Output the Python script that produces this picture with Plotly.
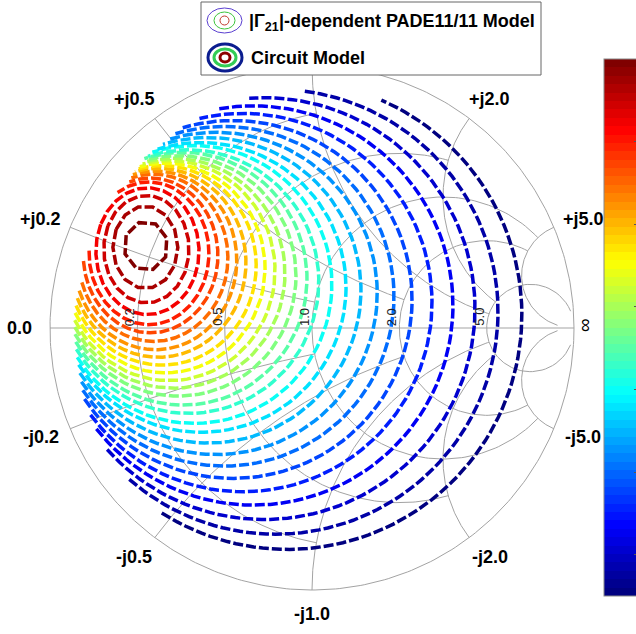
import numpy as np
import plotly.graph_objects as go

W, H = 636, 634
# Smith chart disc: centre and radius in page pixels
CX, CY, RP = 312.0, 328.0, 262.0

# Contour levels (innermost = highest), ellipse fits in the reflection-coefficient plane
LEVELS = [40.0, 39.5, 39.0, 38.5, 38.0, 37.5, 37.0, 36.5, 36.0, 35.5, 35.0, 34.5, 34.0,
          33.5, 33.0, 32.5, 32.0, 31.5, 31.0, 30.5, 30.0, 29.5, 29.0, 28.5, 28.0, 27.5, 27.0]
CENTER_RE = [-0.634, -0.636, -0.632, -0.628, -0.622, -0.616, -0.606, -0.597, -0.586, -0.572,
             -0.560, -0.545, -0.529, -0.511, -0.492, -0.472, -0.449, -0.423, -0.396, -0.366,
             -0.335, -0.301, -0.264, -0.224, -0.183, -0.139, -0.094]
CENTER_IM = [0.313, 0.308, 0.301, 0.293, 0.285, 0.277, 0.268, 0.258, 0.249, 0.239,
             0.229, 0.219, 0.209, 0.199, 0.188, 0.177, 0.166, 0.155, 0.144, 0.132,
             0.121, 0.109, 0.097, 0.086, 0.074, 0.062, 0.050]
RADIUS_RE = [0.084, 0.124, 0.163, 0.197, 0.229, 0.257, 0.285, 0.310, 0.334, 0.359,
             0.381, 0.404, 0.426, 0.450, 0.473, 0.498, 0.525, 0.553, 0.583, 0.615,
             0.648, 0.683, 0.722, 0.762, 0.805, 0.849, 0.895]
STRETCH_IM = [1.12, 1.27, 1.26, 1.23, 1.19, 1.15, 1.12, 1.10, 1.08, 1.06, 1.05, 1.04, 1.03,
              1.02, 1.02, 1.01, 1.01, 1.0, 1.0, 1.0, 1.0, 1.0, 1.0, 1.0, 1.0, 1.0, 1.0]
MEASURED_RADIUS = 0.91

# Smith chart grid: constant-resistance circles and constant-reactance arcs with their extents
R_VALUES = [0.2, 0.5, 1.0, 2.0, 5.0]
R_EXTENT = [1.0, 2.0, 5.0, 5.0, 30.0]
X_VALUES = [0.2, 0.5, 1.0, 2.0, 5.0]
X_EXTENT = [1.0, 2.0, 5.0, 5.0, 30.0]
R_LABELS = ["0.2", "0.5", "1.0", "2.0", "5.0"]
X_LABELS = ["+j0.2", "+j0.5", "+j2.0", "+j5.0", "-j0.2", "-j0.5", "-j1.0", "-j2.0", "-j5.0"]
X_LABEL_VALUES = [0.2, 0.5, 2.0, 5.0, -0.2, -0.5, -1.0, -2.0, -5.0]

GRID = "#a3a3a3"
FONT = "Liberation Sans, Arial, Helvetica, sans-serif"


def jet(t):
    r = np.clip(1.5 - abs(4 * t - 3), 0, 1)
    g = np.clip(1.5 - abs(4 * t - 2), 0, 1)
    b = np.clip(1.5 - abs(4 * t - 1), 0, 1)
    return "rgb(%d,%d,%d)" % (round(255 * r), round(255 * g), round(255 * b))


def gamma(z):
    return (z - 1) / (z + 1)


fig = go.Figure()

# outer circle and real axis
th = np.linspace(0, 2 * np.pi, 400)
fig.add_trace(go.Scatter(x=np.cos(th), y=np.sin(th), mode="lines",
                         line=dict(color=GRID, width=1), hoverinfo="skip", showlegend=False))
fig.add_trace(go.Scatter(x=[-1, 1], y=[0, 0], mode="lines",
                         line=dict(color=GRID, width=1), hoverinfo="skip", showlegend=False))

for r, xm in zip(R_VALUES, R_EXTENT):
    a = np.linspace(-np.arctan(xm), np.arctan(xm), 300)
    g = gamma(r + 1j * np.tan(a))
    fig.add_trace(go.Scatter(x=g.real, y=g.imag, mode="lines",
                             line=dict(color=GRID, width=1), hoverinfo="skip", showlegend=False))

for x, rm in zip(X_VALUES, X_EXTENT):
    a = np.linspace(0, np.arctan(rm), 300)
    for s in (1, -1):
        g = gamma(np.tan(a) + 1j * s * x)
        fig.add_trace(go.Scatter(x=g.real, y=g.imag, mode="lines",
                                 line=dict(color=GRID, width=1), hoverinfo="skip", showlegend=False))

# load-pull contours, clipped to the measured region; the tightest ones keep the
# coarse polygonal look of the sampled data grid
lmin, lmax = min(LEVELS), max(LEVELS)
for k, (lev, cre, cim, rad, st) in enumerate(zip(LEVELS, CENTER_RE, CENTER_IM, RADIUS_RE, STRETCH_IM)):
    nv = min(8 + 6 * k, 360)
    start = np.arctan2(cim, cre)
    t = start + np.linspace(0, 2 * np.pi, nv + 1)
    gx = cre + rad * np.cos(t)
    gy = cim + rad * st * np.sin(t)
    out = np.hypot(gx, gy) > MEASURED_RADIUS
    gx[out] = np.nan
    gy[out] = np.nan
    fig.add_trace(go.Scatter(x=gx, y=gy, mode="lines",
                             line=dict(color=jet((lev - lmin) / (lmax - lmin)), width=3.5,
                                       dash="10px,3px"),
                             hoverinfo="skip", showlegend=False))

# colour scale (64-step jet)
scale = []
for i in range(64):
    c = jet(i / 63)
    scale.append([i / 64, c])
    scale.append([(i + 1) / 64, c])
fig.add_trace(go.Scatter(
    x=CENTER_RE, y=CENTER_IM, mode="markers", hoverinfo="skip", showlegend=False,
    marker=dict(size=1, opacity=0, color=LEVELS, colorscale=scale, cmin=lmin, cmax=lmax,
                showscale=True,
                colorbar=dict(x=604 / W, xanchor="left", y=1 - 59 / H, yanchor="top",
                              lenmode="pixels", len=537, thickness=36, thicknessmode="pixels",
                              outlinecolor="#888888", outlinewidth=1,
                              ticks="inside", ticklen=6, tickcolor="#555555",
                              showticklabels=False, tickvals=[28, 30, 32, 34, 36, 38],
                              xpad=0, ypad=0))))

ann = []
# reactance labels around the rim
for lab, xv in zip(X_LABELS, X_LABEL_VALUES):
    g = gamma(1j * xv)
    ang = np.angle(g)
    px, py = 1.1 * np.cos(ang), 1.1 * np.sin(ang)
    xs = 0 if abs(np.cos(ang)) < 0.1 else 5 * np.sign(np.cos(ang))
    ann.append(dict(x=px, y=py, xref="x", yref="y", text=lab, showarrow=False,
                    xshift=xs, yshift=-2 if py > 0 else 2,
                    font=dict(family=FONT, size=18, color="black", weight="bold")))
ann.append(dict(x=-1.1, y=0, xref="x", yref="y", text="0.0", showarrow=False, xshift=-4,
                font=dict(family=FONT, size=18, color="black", weight="bold")))
ann.append(dict(x=1.0, y=0, xref="x", yref="y", text="∞", showarrow=False, textangle=-90,
                xshift=10, yshift=3, font=dict(family=FONT, size=19, color="black")))
# resistance labels along the real axis
for lab, rv in zip(R_LABELS, R_VALUES):
    g = gamma(rv)
    ann.append(dict(x=g, y=0, xref="x", yref="y", text=lab, showarrow=False, textangle=-90,
                    xshift=-8, yshift=11, font=dict(family=FONT, size=13, color="#222222")))


# legend panel
def px_x(v):
    return v / W


def px_y(v):
    return 1 - v / H


shapes = [dict(type="rect", xref="paper", yref="paper", x0=px_x(201), x1=px_x(541),
               y0=px_y(75), y1=px_y(2), line=dict(color="#666666", width=1),
               fillcolor="white", layer="above")]
icons = [
    # thin contours icon
    (207, 8, 242, 33, "#5a3fd0", 1),
    (214, 12, 235, 29, "#3cc43c", 1),
    (220, 16, 229, 25, "#c0392b", 1),
    # thick contours icon
    (208, 44, 242, 71, "#0b1d8f", 3),
    (214, 49, 236, 66, "#33cc55", 3),
    (220, 53, 230, 62, "#8b0000", 3),
]
for x0, y0, x1, y1, col, wdt in icons:
    shapes.append(dict(type="circle", xref="paper", yref="paper", x0=px_x(x0), x1=px_x(x1),
                       y0=px_y(y1), y1=px_y(y0), line=dict(color=col, width=wdt), layer="above"))

ann.append(dict(x=px_x(247), y=px_y(22), xref="paper", yref="paper", xanchor="left",
                yanchor="middle", showarrow=False,
                text="|Γ<sub>21</sub>|-dependent PADE11/11 Model",
                font=dict(family=FONT, size=18, color="black", weight="bold")))
ann.append(dict(x=px_x(249), y=px_y(58), xref="paper", yref="paper", xanchor="left",
                yanchor="middle", showarrow=False, text="Circuit Model",
                font=dict(family=FONT, size=18, color="black", weight="bold")))

fig.update_layout(
    width=W, height=H, margin=dict(l=0, r=0, t=0, b=0, autoexpand=False),
    paper_bgcolor="white", plot_bgcolor="white",
    xaxis=dict(range=[(0 - CX) / RP, (W - CX) / RP], visible=False, fixedrange=True),
    yaxis=dict(range=[(CY - H) / RP, CY / RP], visible=False, fixedrange=True),
    shapes=shapes, annotations=ann, showlegend=False,
)

fig.write_html("out.html")
